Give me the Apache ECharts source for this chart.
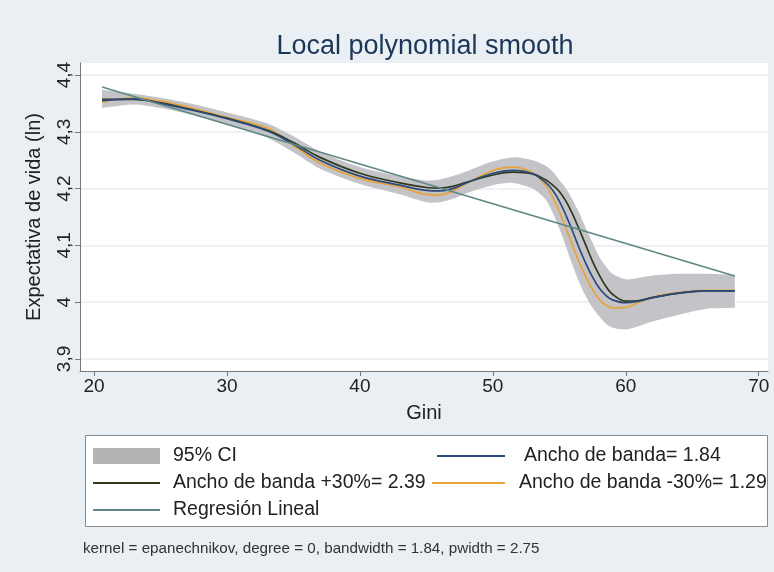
<!DOCTYPE html>
<html>
<head>
<meta charset="utf-8">
<script src="https://cdn.jsdelivr.net/npm/echarts@6/dist/echarts.min.js"></script>
<style>
  html, body { margin: 0; padding: 0; background: #e9eff2; }
  #chart { width: 774px; height: 572px; }
</style>
</head>
<body>
<div id="chart"></div>
<script>
// Gini coefficient (x) at which the smooths were evaluated
const gini = [20.6, 23, 25, 27, 30, 33, 35, 37, 40, 43, 45, 46, 47, 48, 50, 51.5, 53, 54, 54.5, 55, 55.5, 56, 56.5, 57, 57.5, 58, 58.5, 59, 60, 61, 62, 64, 66, 68.2];

// Local polynomial smooth, bandwidth 1.84
const bw184 = [4.355, 4.358, 4.350, 4.340, 4.323, 4.302, 4.278, 4.250, 4.222, 4.206, 4.197, 4.196, 4.200, 4.210, 4.227, 4.232, 4.226, 4.210, 4.197, 4.178, 4.153, 4.125, 4.095, 4.068, 4.044, 4.025, 4.012, 4.004, 3.999, 4.002, 4.008, 4.016, 4.020, 4.020];
// Bandwidth +30% (2.39)
const bw239 = [4.357, 4.357, 4.351, 4.341, 4.324, 4.303, 4.281, 4.255, 4.227, 4.210, 4.202, 4.201, 4.204, 4.211, 4.224, 4.229, 4.226, 4.215, 4.206, 4.195, 4.178, 4.155, 4.128, 4.100, 4.072, 4.048, 4.028, 4.014, 4.002, 4.003, 4.008, 4.016, 4.020, 4.020];
// Bandwidth -30% (1.29)
const bw129 = [4.352, 4.360, 4.354, 4.344, 4.325, 4.307, 4.276, 4.245, 4.218, 4.203, 4.190, 4.189, 4.196, 4.209, 4.232, 4.238, 4.228, 4.205, 4.185, 4.160, 4.130, 4.100, 4.070, 4.045, 4.022, 4.005, 3.995, 3.990, 3.991, 4.000, 4.009, 4.017, 4.021, 4.021];

// 95% confidence interval around the 1.84 smooth
const ciLow  = [4.342, 4.348, 4.342, 4.332, 4.313, 4.290, 4.264, 4.235, 4.208, 4.190, 4.176, 4.176, 4.182, 4.192, 4.206, 4.210, 4.200, 4.180, 4.158, 4.130, 4.098, 4.065, 4.035, 4.010, 3.990, 3.975, 3.962, 3.955, 3.952, 3.958, 3.966, 3.978, 3.988, 3.990];
const ciHigh = [4.374, 4.367, 4.360, 4.351, 4.334, 4.315, 4.292, 4.265, 4.238, 4.222, 4.214, 4.216, 4.222, 4.230, 4.248, 4.255, 4.250, 4.240, 4.230, 4.215, 4.200, 4.180, 4.157, 4.130, 4.105, 4.080, 4.063, 4.050, 4.040, 4.043, 4.047, 4.050, 4.050, 4.048];

// Linear fit end points
const regGini = [20.6, 68.2];
const regLife = [4.379, 4.046];

// Tick values
const xTicks = [20, 30, 40, 50, 60, 70];
const yTicks = [3.9, 4.0, 4.1, 4.2, 4.3, 4.4];

const FONT = "'Liberation Sans', Arial, sans-serif";
const pairs = (xs, ys) => xs.map((x, i) => [x, ys[i]]);

const names = {
  ci: '95% CI',
  b184: 'Ancho de banda= 1.84',
  b239: 'Ancho de banda +30%= 2.39',
  b129: 'Ancho de banda -30%= 1.29',
  reg: 'Regresión Lineal'
};
const colors = {
  ci: '#c3c3c8',
  ciLegend: '#b4b4b4',
  b184: '#2c4a7c',
  b239: '#2f3a1c',
  b129: '#e6a43c',
  reg: '#5e8884'
};

function lineSeries(name, xs, ys, color, z) {
  return {
    name, type: 'line', data: pairs(xs, ys), symbol: 'none',
    smooth: 0.4, z,
    lineStyle: { color, width: 1.7 }, itemStyle: { color },
    emphasis: { disabled: true }
  };
}

const legendText = pad => ({ fontFamily: FONT, fontSize: 19.5, color: '#222', padding: [0, 0, 0, pad] });

function legendAt(name, color, left, top, width, pad) {
  return {
    left, top, padding: 0, selectedMode: false,
    itemWidth: width, itemHeight: 2,
    data: [{ name, icon: 'rect', itemStyle: { color } }],
    textStyle: legendText(pad)
  };
}

// Confidence band: one filled polygon (upper edge forward, lower edge back).
// The end points are repeated so the smoothing keeps square ends.
function renderBand(params, api) {
  if (params.dataIndex !== 0) return;
  const n = gini.length;
  const pts = [];
  pts.push(api.coord([gini[0], ciHigh[0]]));
  for (let i = 0; i < n; i++) pts.push(api.coord([gini[i], ciHigh[i]]));
  pts.push(api.coord([gini[n - 1], ciHigh[n - 1]]));
  pts.push(api.coord([gini[n - 1], ciLow[n - 1]]));
  for (let i = n - 1; i >= 0; i--) pts.push(api.coord([gini[i], ciLow[i]]));
  pts.push(api.coord([gini[0], ciLow[0]]));
  return {
    type: 'polygon',
    shape: { points: pts, smooth: 0.25 },
    style: { fill: colors.ci }
  };
}

const chart = echarts.init(document.getElementById('chart'), null, { renderer: 'canvas' });

chart.setOption({
  animation: false,
  backgroundColor: '#e9eff2',
  title: [
    {
      text: 'Local polynomial smooth', left: 420, top: 28, textAlign: 'center',
      textStyle: { fontFamily: FONT, fontSize: 27, fontWeight: 'normal', color: '#1c3658' }
    },
    {
      text: 'kernel = epanechnikov, degree = 0, bandwidth = 1.84, pwidth = 2.75',
      left: 78, top: 536,
      textStyle: { fontFamily: FONT, fontSize: 15.2, fontWeight: 'normal', color: '#333' }
    }
  ],
  grid: { left: 80, right: 6, top: 63, bottom: 201, backgroundColor: '#ffffff', show: true, borderWidth: 0 },
  xAxis: {
    type: 'value', min: 18.94, max: 70.7,
    name: 'Gini', nameLocation: 'middle', nameGap: 32,
    nameTextStyle: { fontFamily: FONT, fontSize: 20, color: '#222' },
    axisLine: { show: true, lineStyle: { color: '#777', width: 1 } },
    axisTick: { show: true, length: 5, customValues: xTicks, lineStyle: { color: '#777' } },
    axisLabel: { customValues: xTicks, fontFamily: FONT, fontSize: 19, color: '#222', margin: 6 },
    splitLine: { show: false }
  },
  yAxis: {
    type: 'value', min: 3.8788, max: 4.4212,
    name: 'Expectativa de vida (ln)', nameLocation: 'middle', nameGap: 36,
    nameTextStyle: { fontFamily: FONT, fontSize: 20, color: '#222' },
    axisLine: { show: true, lineStyle: { color: '#777', width: 1 } },
    axisTick: { show: true, length: 5, customValues: yTicks, lineStyle: { color: '#777' } },
    axisLabel: {
      customValues: yTicks, rotate: 90, margin: 6,
      fontFamily: FONT, fontSize: 19, color: '#222',
      formatter: v => (Math.round(v * 10) / 10).toString().replace('.', ',')
    },
    splitLine: { show: true, lineStyle: { color: '#eaeef0', width: 1.5 } }
  },
  graphic: [
    {
      type: 'rect', z: -1, silent: true,
      shape: { x: 85.5, y: 435.5, width: 682, height: 91 },
      style: { fill: '#ffffff', stroke: '#8a8a8a', lineWidth: 1 }
    }
  ],
  legend: [
    {
      left: 93, top: 446, padding: 0, selectedMode: false,
      itemWidth: 67, itemHeight: 16,
      data: [{ name: names.ci, icon: 'rect', itemStyle: { color: colors.ciLegend } }],
      textStyle: legendText(8)
    },
    legendAt(names.b184, colors.b184, 437, 446, 68, 14),
    legendAt(names.b239, colors.b239, 93, 473, 67, 8),
    legendAt(names.b129, colors.b129, 432, 473, 73, 9),
    legendAt(names.reg, colors.reg, 93, 500, 67, 8)
  ],
  series: [
    {
      name: names.ci, type: 'custom', z: 1,
      data: gini.map((x, i) => [x, ciLow[i], ciHigh[i]]),
      renderItem: renderBand,
      itemStyle: { color: colors.ciLegend }
    },
    lineSeries(names.b129, gini, bw129, colors.b129, 3),
    lineSeries(names.b239, gini, bw239, colors.b239, 4),
    lineSeries(names.b184, gini, bw184, colors.b184, 5),
    Object.assign(lineSeries(names.reg, regGini, regLife, colors.reg, 6), { smooth: false })
  ]
});
</script>
</body>
</html>
